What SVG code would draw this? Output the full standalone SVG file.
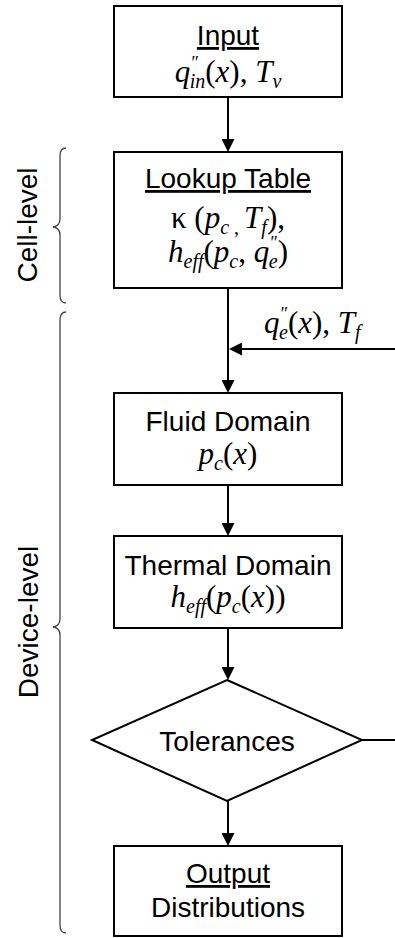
<svg xmlns="http://www.w3.org/2000/svg" width="395" height="938" viewBox="0 0 395 938">
  <style>
    .box { fill: #fff; stroke: #000; stroke-width: 2; }
    .con { fill: none; stroke: #000; stroke-width: 2; }
    .brace { fill: none; stroke: #444; stroke-width: 1.3; }
    .t { font-family: "Liberation Sans", Arial, sans-serif; font-size: 28px; fill: #000; text-anchor: middle; }
    .m { font-family: "Liberation Serif", "Times New Roman", serif; font-size: 31px; font-style: italic; fill: #000; text-anchor: middle; }
    .u { font-style: normal; }
    .s { font-size: 20px; }
    .p { font-size: 18px; }
    .ul { text-decoration: underline; }
  </style>
  <defs>
    <marker id="arrow" markerUnits="userSpaceOnUse" markerWidth="13" markerHeight="13" refX="9" refY="6.5" orient="auto">
      <path d="M0,0 L13,6.5 L0,13 z" fill="#000"/>
    </marker>
  </defs>

  <rect width="395" height="938" fill="#fff"/>

  <!-- scope braces and their labels -->
  <g id="cell-level">
    <path class="brace" d="M66,148 Q60,148 60,156 L60,219 Q60,226 53,227 Q60,228 60,235 L60,295 Q60,303 66,303"/>
    <text class="t" transform="translate(37,225) rotate(-90)">Cell-level</text>
  </g>
  <g id="device-level">
    <path class="brace" d="M66,312 Q60,312 60,320 L60,619 Q60,626 53,627 Q60,628 60,635 L60,925 Q60,933 66,933"/>
    <text class="t" transform="translate(38,622) rotate(-90)">Device-level</text>
  </g>

  <!-- connectors -->
  <g id="connectors">
    <path class="con" d="M228,97 V148" marker-end="url(#arrow)"/>
    <path class="con" d="M228,288 V389" marker-end="url(#arrow)"/>
    <path class="con" d="M395,349 H233" marker-end="url(#arrow)"/>
    <path class="con" d="M228,485 V532" marker-end="url(#arrow)"/>
    <path class="con" d="M228,628 V676" marker-end="url(#arrow)"/>
    <path class="con" d="M362,740 H395"/>
    <path class="con" d="M228,801 V842" marker-end="url(#arrow)"/>
    <text class="m" x="264" y="333" style="text-anchor:start">q<tspan class="p" dy="-13">″</tspan><tspan class="s" dx="-8" dy="19">e</tspan><tspan class="u" dy="-6">(</tspan>x<tspan class="u">), </tspan>T<tspan class="s" dy="6">f</tspan></text>
  </g>

  <!-- nodes -->
  <g id="input">
    <rect class="box" x="114" y="6" width="228" height="91"/>
    <text class="t ul" x="228" y="45">Input</text>
    <text class="m" x="228" y="82">q<tspan class="p" dy="-13">″</tspan><tspan class="s" dx="-8" dy="19">in</tspan><tspan class="u" dy="-6">(</tspan>x<tspan class="u">), </tspan>T<tspan class="s" dy="6">v</tspan></text>
  </g>

  <g id="lookup-table">
    <rect class="box" x="114" y="152" width="228" height="136"/>
    <text class="t ul" x="228" y="188">Lookup Table</text>
    <text class="m" x="228" y="228"><tspan class="u">κ (</tspan>p<tspan class="s" dy="6">c</tspan><tspan class="s u"> , </tspan><tspan dy="-6">T</tspan><tspan class="s" dy="6">f</tspan><tspan class="u" dy="-6">),</tspan></text>
    <text class="m" x="228" y="262">h<tspan class="s" dy="6">eff</tspan><tspan class="u" dy="-6">(</tspan>p<tspan class="s" dy="6">c</tspan><tspan class="u" dy="-6">, </tspan>q<tspan class="p" dy="-13">″</tspan><tspan class="s" dx="-8" dy="19">e</tspan><tspan class="u" dy="-6">)</tspan></text>
  </g>

  <g id="fluid-domain">
    <rect class="box" x="114" y="393" width="228" height="92"/>
    <text class="t" x="228" y="431">Fluid Domain</text>
    <text class="m" x="228" y="464">p<tspan class="s" dy="6">c</tspan><tspan class="u" dy="-6">(</tspan>x<tspan class="u">)</tspan></text>
  </g>

  <g id="thermal-domain">
    <rect class="box" x="114" y="536" width="228" height="92"/>
    <text class="t" x="228" y="575">Thermal Domain</text>
    <text class="m" x="228" y="607">h<tspan class="s" dy="6">eff</tspan><tspan class="u" dy="-6">(</tspan>p<tspan class="s" dy="6">c</tspan><tspan class="u" dy="-6">(</tspan>x<tspan class="u">))</tspan></text>
  </g>

  <g id="tolerances">
    <polygon class="box" points="227,680 362,740 227,801 92,740"/>
    <text class="t" x="227" y="751">Tolerances</text>
  </g>

  <g id="output">
    <rect class="box" x="114" y="846" width="228" height="90"/>
    <text class="t ul" x="228" y="883">Output</text>
    <text class="t" x="228" y="917">Distributions</text>
  </g>
</svg>
